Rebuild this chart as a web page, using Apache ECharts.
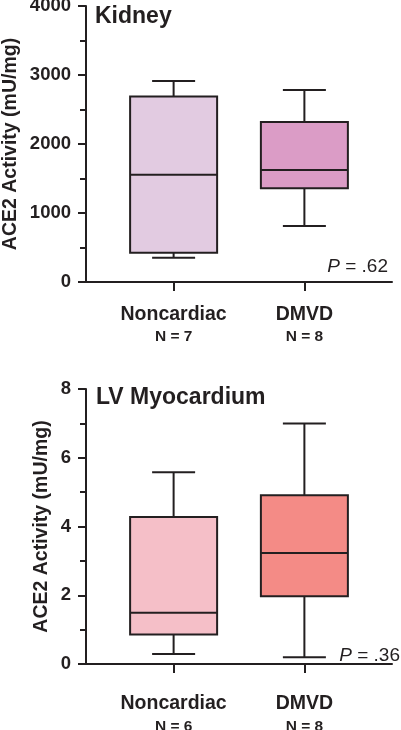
<!DOCTYPE html>
<html>
<head>
<meta charset="utf-8">
<script src="https://cdn.jsdelivr.net/npm/echarts@6/dist/echarts.min.js"></script>
<style>
html,body{margin:0;padding:0;background:#fff;}
#c{width:401px;height:730px;}
</style>
</head>
<body>
<div id="c"></div>
<script>
// ---- data ----
const categories = ['Noncardiac', 'DMVD'];
const kidneyN = [7, 8];
// [min, Q1, median, Q3, max]
const kidneyNoncardiac = [352, 425, 1555, 2690, 2913];
const kidneyDMVD = [812, 1358, 1623, 2319, 2783];
const lvN = [6, 8];
const lvNoncardiac = [0.29, 0.86, 1.49, 4.28, 5.58];
const lvDMVD = [0.20, 1.97, 3.23, 4.91, 7.0];
const kidneyYTicks = [0, 1000, 2000, 3000, 4000];
const lvYTicks = [0, 2, 4, 6, 8];
const kidneyP = '.62';
const lvP = '.36';

const kidneyColors = ['#e2cbe1', '#db9cc6'];
const lvColors = ['#f5bfc8', '#f48b86'];
const ink = '#231f20';
const FONT = '"Liberation Sans", Arial, Helvetica, sans-serif';

function boxData(series, colors) {
  return series.map((v, i) => ({ value: [i + 1].concat(v), itemStyle: { color: colors[i] } }));
}

function renderBox(params, api) {
  const x = api.value(0);
  const mn = api.coord([x, api.value(1)]);
  const q1 = api.coord([x, api.value(2)]);
  const md = api.coord([x, api.value(3)]);
  const q3 = api.coord([x, api.value(4)]);
  const mx = api.coord([x, api.value(5)]);
  const cx = mn[0];
  const hb = 43.5, hc = 21.5;
  const ls = { stroke: ink, lineWidth: 2 };
  return {
    type: 'group',
    children: [
      { type: 'line', shape: { x1: cx, y1: mx[1], x2: cx, y2: q3[1] }, style: ls },
      { type: 'line', shape: { x1: cx, y1: mn[1], x2: cx, y2: q1[1] }, style: ls },
      { type: 'line', shape: { x1: cx - hc, y1: mx[1], x2: cx + hc, y2: mx[1] }, style: ls },
      { type: 'line', shape: { x1: cx - hc, y1: mn[1], x2: cx + hc, y2: mn[1] }, style: ls },
      { type: 'rect', shape: { x: cx - hb, y: q3[1], width: hb * 2, height: q1[1] - q3[1] },
        style: { fill: api.visual('color'), stroke: ink, lineWidth: 2 } },
      { type: 'line', shape: { x1: cx - hb, y1: md[1], x2: cx + hb, y2: md[1] }, style: ls }
    ]
  };
}

function xAxisCfg(gridIndex, nArr, margin, lh) {
  return {
    type: 'value', gridIndex: gridIndex, min: 0.33, max: 2.67,
    splitLine: { show: false },
    axisLine: { show: true, lineStyle: { color: ink, width: 2 } },
    axisTick: { show: true, customValues: [1, 2], length: 9, lineStyle: { color: ink, width: 2 } },
    axisLabel: {
      customValues: [1, 2], margin: margin,
      formatter: function (v) {
        const i = Math.round(v) - 1;
        return '{a|' + categories[i] + '}\n{b|N = ' + nArr[i] + '}';
      },
      rich: {
        a: { fontFamily: FONT, fontWeight: 'bold', fontSize: 19.5, color: ink, lineHeight: lh },
        b: { fontFamily: FONT, fontWeight: 'bold', fontSize: 15.5, color: ink, lineHeight: lh }
      }
    }
  };
}

function yAxisCfg(gridIndex, ticks, nameGap) {
  return {
    type: 'value', gridIndex: gridIndex,
    min: ticks[0], max: ticks[ticks.length - 1], interval: ticks[1] - ticks[0],
    name: 'ACE2 Activity (mU/mg)', nameLocation: 'middle', nameGap: nameGap,
    nameMoveOverlap: false,
    nameTextStyle: { fontFamily: FONT, fontWeight: 'bold', fontSize: 19.5, color: ink },
    splitLine: { show: false },
    axisLine: { show: true, lineStyle: { color: ink, width: 2 } },
    axisTick: { show: true, length: 8, lineStyle: { color: ink, width: 2 } },
    minorTick: { show: true, splitNumber: 2, length: 6, lineStyle: { color: ink, width: 2 } },
    axisLabel: { fontFamily: FONT, fontWeight: 'bold', fontSize: 18.5, color: ink, margin: 15,
      formatter: function (v) { return String(v); } }
  };
}

const chart = echarts.init(document.getElementById('c'), null, { renderer: 'canvas' });
chart.setOption({
  animation: false,
  backgroundColor: '#fff',
  title: [
    { text: 'Kidney', left: 95, top: 5, padding: 0,
      textStyle: { fontFamily: FONT, fontWeight: 'bold', fontSize: 23, color: ink } },
    { text: 'LV Myocardium', left: 96, top: 386, padding: 0,
      textStyle: { fontFamily: FONT, fontWeight: 'bold', fontSize: 23, color: ink } }
  ],
  grid: [
    { left: 86, top: 6, width: 306, height: 276, outerBoundsMode: 'none', containLabel: false },
    { left: 86, top: 389, width: 306, height: 275, outerBoundsMode: 'none', containLabel: false }
  ],
  xAxis: [xAxisCfg(0, kidneyN, 22, 22), xAxisCfg(1, lvN, 28, 23)],
  yAxis: [yAxisCfg(0, kidneyYTicks, 65), yAxisCfg(1, lvYTicks, 34)],
  series: [
    { type: 'custom', xAxisIndex: 0, yAxisIndex: 0, renderItem: renderBox,
      encode: { x: 0, y: [1, 2, 3, 4, 5] },
      data: boxData([kidneyNoncardiac, kidneyDMVD], kidneyColors) },
    { type: 'custom', xAxisIndex: 1, yAxisIndex: 1, renderItem: renderBox,
      encode: { x: 0, y: [1, 2, 3, 4, 5] },
      data: boxData([lvNoncardiac, lvDMVD], lvColors) }
  ],
  graphic: [
    { type: 'text', x: 388, y: 267,
      style: { text: '{i|P} = ' + kidneyP, align: 'right', verticalAlign: 'middle',
        fontFamily: FONT, fontSize: 19, fill: ink,
        rich: { i: { fontStyle: 'italic', fontFamily: FONT, fontSize: 19, fill: ink } } } },
    { type: 'text', x: 400, y: 656,
      style: { text: '{i|P} = ' + lvP, align: 'right', verticalAlign: 'middle',
        fontFamily: FONT, fontSize: 19, fill: ink,
        rich: { i: { fontStyle: 'italic', fontFamily: FONT, fontSize: 19, fill: ink } } } }
  ]
});
</script>
</body>
</html>
